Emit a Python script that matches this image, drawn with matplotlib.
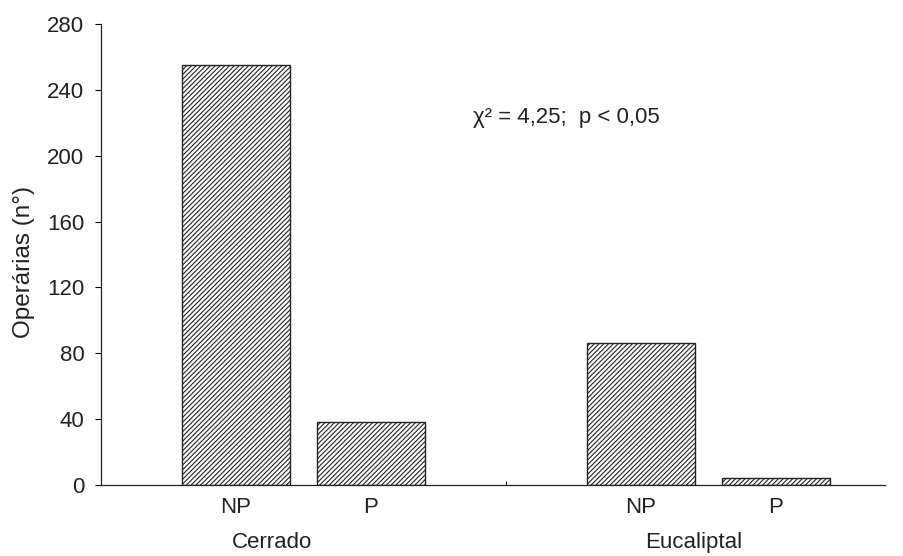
import matplotlib
matplotlib.use("Agg")
import matplotlib.pyplot as plt

plt.rcParams['font.family'] = ['Liberation Sans', 'DejaVu Sans']
plt.rcParams['hatch.linewidth'] = 0.8
plt.rcParams['hatch.color'] = '#505050'

groups = ["Cerrado", "Eucaliptal"]
categories = ["NP", "P", "NP", "P"]
values = [255, 38, 86, 4]
positions = [0, 1, 3, 4]
yticks = [0, 40, 80, 120, 160, 200, 240, 280]

FS = 16

fig = plt.figure(figsize=(9.04, 5.56), dpi=100)
ax = fig.add_axes([0.1117, 0.1277, 0.8673, 0.8291])

ax.bar(positions, values, width=0.8, color='white', edgecolor='#222222',
       linewidth=1.0, hatch='///////')

ax.set_xlim(-1.0, 4.81)
ax.set_ylim(0, 280)
ax.set_yticks(yticks)
ax.set_yticklabels([str(t) for t in yticks], fontsize=FS, color='#222222')
ax.tick_params(axis='y', direction='out', length=4, width=0.8, pad=8)

ax.set_xticks(positions)
ax.set_xticklabels(categories, fontsize=FS, color='#222222')
ax.tick_params(axis='x', length=0, pad=9)
ax.set_xticks([2], minor=True)
ax.tick_params(axis='x', which='minor', direction='in', length=3, width=0.8)

for s in ['top', 'right']:
    ax.spines[s].set_visible(False)
for s in ['left', 'bottom']:
    ax.spines[s].set_linewidth(0.9)
    ax.spines[s].set_color('#222222')

ax.set_ylabel("Operárias (n°)", fontsize=17.5, color='#222222')
ax.yaxis.set_label_coords(-0.0842, 0.484)

group_x = [0.27, 3.39]
for gx, g in zip(group_x, groups):
    ax.text(gx, -0.125, g, transform=ax.get_xaxis_transform(), ha='center',
            va='center', fontsize=FS, color='#222222')

ax.text(2.45, 0.798, "χ² = 4,25;  p < 0,05", transform=ax.get_xaxis_transform(),
        ha='center', va='center', fontsize=FS, color='#222222')

fig.savefig("out.png", dpi=100)
